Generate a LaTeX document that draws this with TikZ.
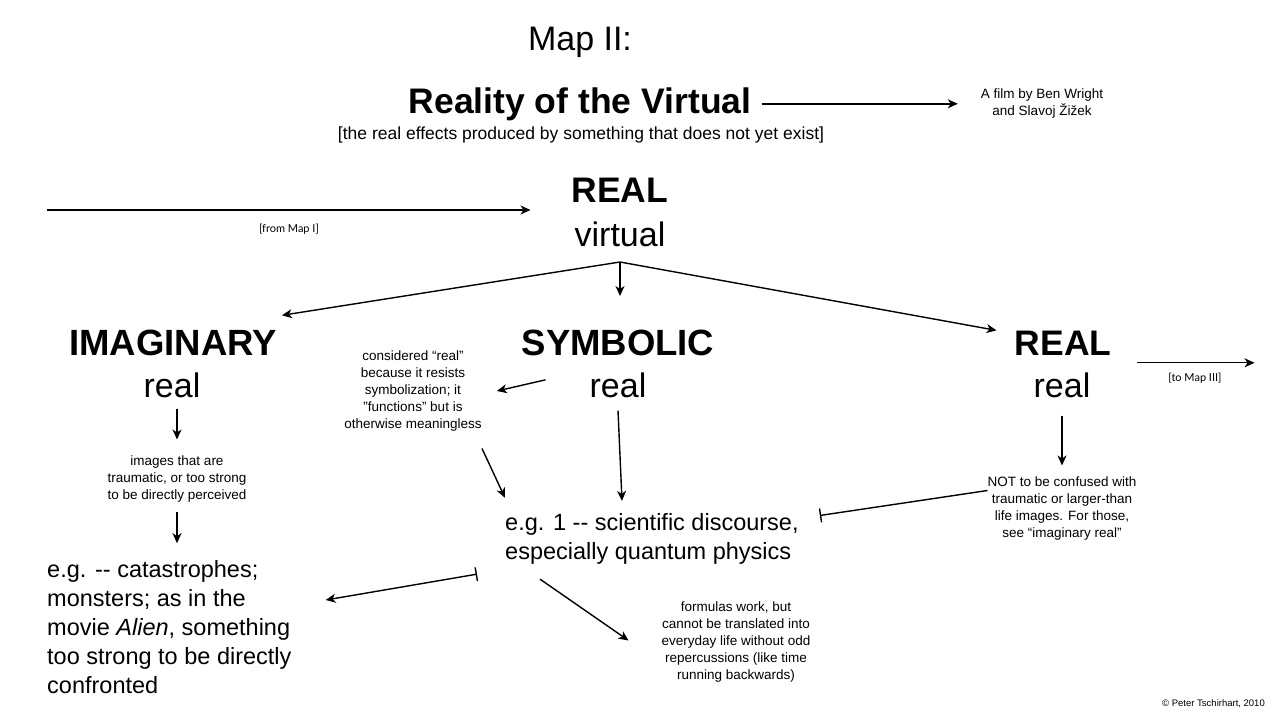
\documentclass[tikz,border=0pt]{standalone}
\usepackage{fontspec}
\setmainfont{Liberation Sans}
\newfontfamily\tagfont{Lato}
\usepackage{tikz}
\usetikzlibrary{arrows.meta,positioning}

\begin{document}
\begin{tikzpicture}[x=1pt,y=-1pt,
    head/.style={font=\fontsize{34}{40}\selectfont,inner sep=0pt},
    headbold/.style={font=\bfseries\fontsize{35.5}{40}\selectfont,inner sep=0pt},
    body/.style={font=\fontsize{23.5}{29}\selectfont,align=left,inner sep=0pt},
    note/.style={font=\fontsize{13.5}{17}\selectfont,align=center,inner sep=0pt},
    tag/.style={font=\tagfont\fontsize{11}{13}\selectfont,inner sep=0pt},
    conn/.style={line width=1.4pt,-{Stealth[length=10pt,width=9pt,inset=3pt]}},
    stop/.style={line width=1.4pt,-{Bar[width=14pt]}}]
  \useasboundingbox (0,0) rectangle (1280,720);
  % title block
  \node[head,anchor=base] (mapii) at (580,50) {Map II:};
  \node[headbold,anchor=base] (reality) at (580,113) {Reality of the Virtual};
  \node[font=\fontsize{17.5}{20}\selectfont,inner sep=0pt,anchor=base] (sub) at (581,139)
    {[the real effects produced by something that does not yet exist]};
  \node[note] (film) at (1042,103.5) {A film by Ben Wright\\and Slavoj Žižek};
  \draw[conn] ([xshift=10pt]reality.east) -- ([xshift=-23pt]reality.east -| film.west);
  % the real/virtual pair
  \node[headbold,anchor=base] (realtop) at (620,202) {REAL};
  \node[head,anchor=base] (virtual) at (620,246) {virtual};
  \coordinate (fromI) at (47,210);
  \draw[conn] (fromI) -- ([xshift=-41pt]fromI -| realtop.west);
  \node[tag] (fromItag) at (289,229) {[from Map I]};
  % three registers
  \node[headbold,anchor=base,font=\bfseries\fontsize{36.5}{40}\selectfont] (imag) at (173,355) {IMAGINARY};
  \node[head,anchor=base] (imreal) at (172,397) {real};
  \node[headbold,anchor=base,font=\bfseries\fontsize{36.5}{40}\selectfont] (symb) at (618,355) {SYMBOLIC};
  \node[head,anchor=base] (symreal) at (618,397) {real};
  \node[headbold,anchor=base] (realr) at (1063,355) {REAL};
  \node[head,anchor=base] (realreal) at (1062,397) {real};
  \coordinate (fan) at (620,262);
  \draw[conn] (fan) -- ([xshift=5pt,yshift=14pt]imag.north east);
  \draw[conn] (fan) -- ++(0,34);
  \draw[conn] (fan) -- ([xshift=-18pt]realr.north west);
  \draw[conn] ([xshift=25pt,yshift=-20pt]realr.east) -- ++(118,0);
  \node[tag] (toIII) at (1195,378) {[to Map III]};
  % notes
  \node[note] (consid) at (413,391)
    {considered “real”\\because it resists\\symbolization; it\\\symbol{34}functions\symbol{34} but is\\otherwise meaningless};
  \node[note] (images) at (177,479)
    {images that are\\traumatic, or too strong\\to be directly perceived};
  \node[note] (nottxt) at (1062,508.5)
    {NOT to be confused with\\traumatic or larger-than\\life images. For those,\\see “imaginary real”};
  \node[note] (formulas) at (736,642.5)
    {formulas work, but\\cannot be translated into\\everyday life without odd\\repercussions (like time\\running backwards)};
  \node[body,anchor=west] (eg1) at (505,538.5)
    {e.g. 1 -{}- scientific discourse,\\especially quantum physics};
  \node[body,anchor=west] (catas) at (47,627)
    {e.g. -{}- catastrophes;\\monsters; as in the\\movie \textit{Alien}, something\\too strong to be directly\\confronted};
  \draw[conn] ([xshift=-44pt,yshift=5pt]symreal.west) -- ([xshift=15pt]consid.east);
  \draw[conn] ([yshift=-11pt]images.north |- imreal.south) -- ([yshift=16pt]images.north);
  \draw[conn] ([yshift=-10pt]images.south) -- ([yshift=17pt]images.south |- catas.north);
  \draw[conn] ([xshift=69pt,yshift=-17pt]consid.south) -- ([yshift=15pt]eg1.north west);
  \draw[conn] ([yshift=-13pt]symreal.south) -- ([xshift=4pt,yshift=12pt]symreal.south |- eg1.north);
  \draw[conn] ([yshift=-18pt]realreal.south) -- ([yshift=11pt]nottxt.north);
  \draw[stop] ([yshift=18pt]nottxt.west) -- ([xshift=21pt,yshift=23pt]eg1.east);
  \draw[line width=1.4pt,{Bar[width=14pt]}-{Stealth[length=10pt,width=9pt,inset=3pt]}]
    ([xshift=-28pt,yshift=-10pt]eg1.south west) -- ([xshift=34pt,yshift=27pt]catas.east);
  \draw[conn] ([xshift=35pt,yshift=-15pt]eg1.south west) -- ([xshift=-33pt,yshift=2pt]formulas.west);
  \node[font=\fontsize{9.5}{11}\selectfont,inner sep=0pt,anchor=east] (copy) at (1265,704)
    {© Peter Tschirhart, 2010};
\end{tikzpicture}
\end{document}
